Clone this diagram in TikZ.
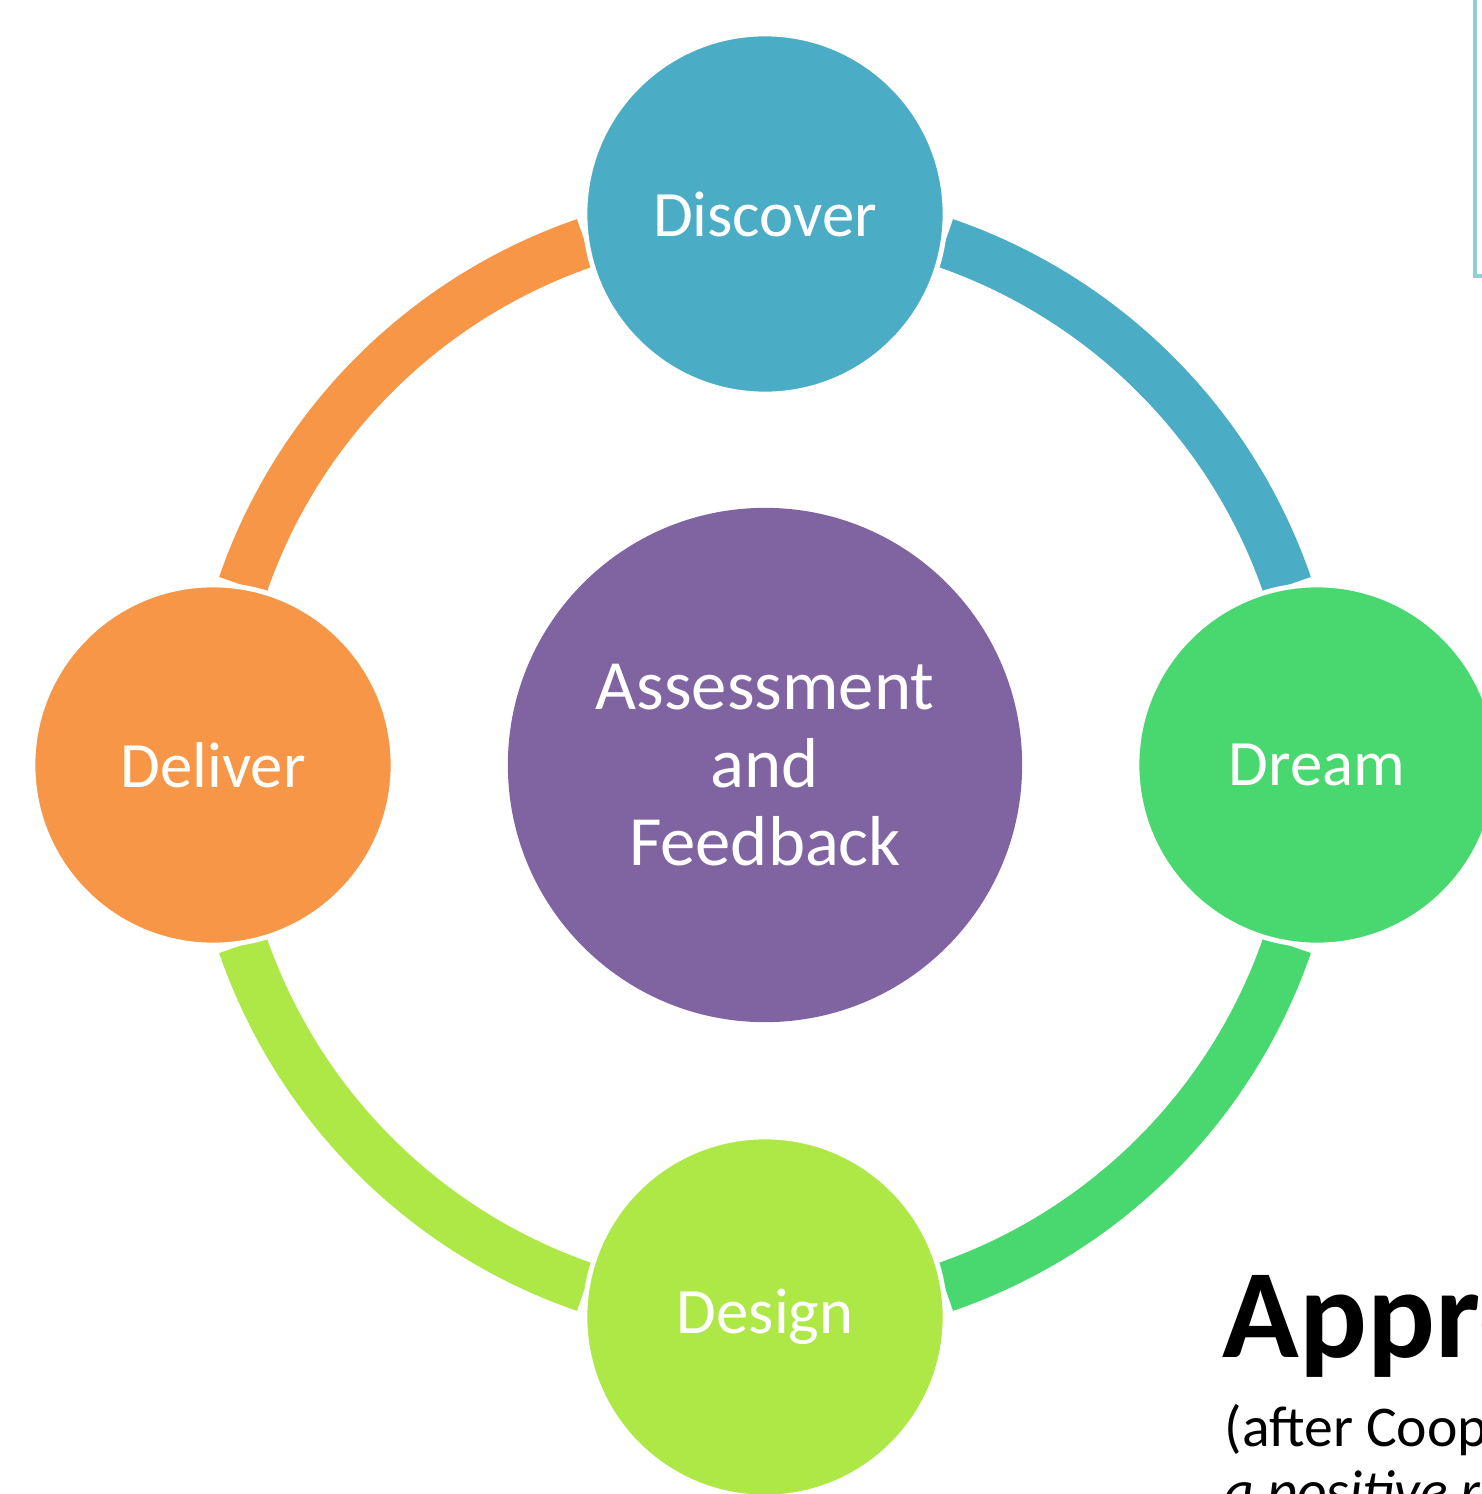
\documentclass[tikz,border=0pt]{standalone}
\usepackage{fontspec}
\setmainfont{Carlito}
\usetikzlibrary{calc}
\definecolor{cDisc}{HTML}{4BACC6}
\definecolor{cDream}{HTML}{49D870}
\definecolor{cDesign}{HTML}{ADE847}
\definecolor{cDeliver}{HTML}{F79646}
\definecolor{cCore}{HTML}{8064A2}
\definecolor{cFrame}{HTML}{92CDDC}
\begin{document}
\begin{tikzpicture}[x=0.01cm,y=-0.01cm,
  stage/.style={circle,minimum size=3.6cm,inner sep=0pt,draw=white,line width=1.4pt,
    text=white,font=\fontsize{18.4}{22}\selectfont},
  band/.style={line width=0.5cm},
  title/.style={anchor=base west,inner sep=0pt}]
\useasboundingbox (0,0) rectangle (1482,1494);
\clip (0,0) rectangle (1482,1494);
% frame corner of the text box
\draw[cFrame,line width=1pt] (1475,-10) -- (1475,276) -- (1500,276);
% hub
\node[circle,fill=cCore,minimum size=5.14cm,inner sep=0pt,text=white,align=center,
  font=\fontsize{20.1}{22.3}\selectfont] (core) at (765,765) {Assessment\\and\\Feedback};
% ring segments
\draw[band,cDisc] ([shift={(71:5.52cm)}]core.center) arc[start angle=71,end angle=19,radius=5.52cm];
\draw[band,cDream] ([shift={(-19:5.52cm)}]core.center) arc[start angle=-19,end angle=-71,radius=5.52cm];
\draw[band,cDesign] ([shift={(-109:5.52cm)}]core.center) arc[start angle=-109,end angle=-161,radius=5.52cm];
\draw[band,cDeliver] ([shift={(161:5.52cm)}]core.center) arc[start angle=161,end angle=109,radius=5.52cm];
% stages
\node[stage,fill=cDisc] (disc) at (765,214) {Discover};
\node[stage,fill=cDream] (dream) at (1317,765) {Dream};
\node[stage,fill=cDesign] (design) at (765,1317) {Design};
\node[stage,fill=cDeliver] (deliver) at (213,765) {Deliver};
% heading
\node[title,font=\fontsize{36}{40}\bfseries\selectfont] (head) at (1222,1357) {Appreciative};
\node[title,font=\fontsize{16.4}{19}\selectfont] (sub) at (1224,1446) {(after Cooperrider};
\node[title,font=\fontsize{16.4}{19}\itshape\selectfont] (sub2) at (1224,1510) {a positive revolution};
\end{tikzpicture}
\end{document}
